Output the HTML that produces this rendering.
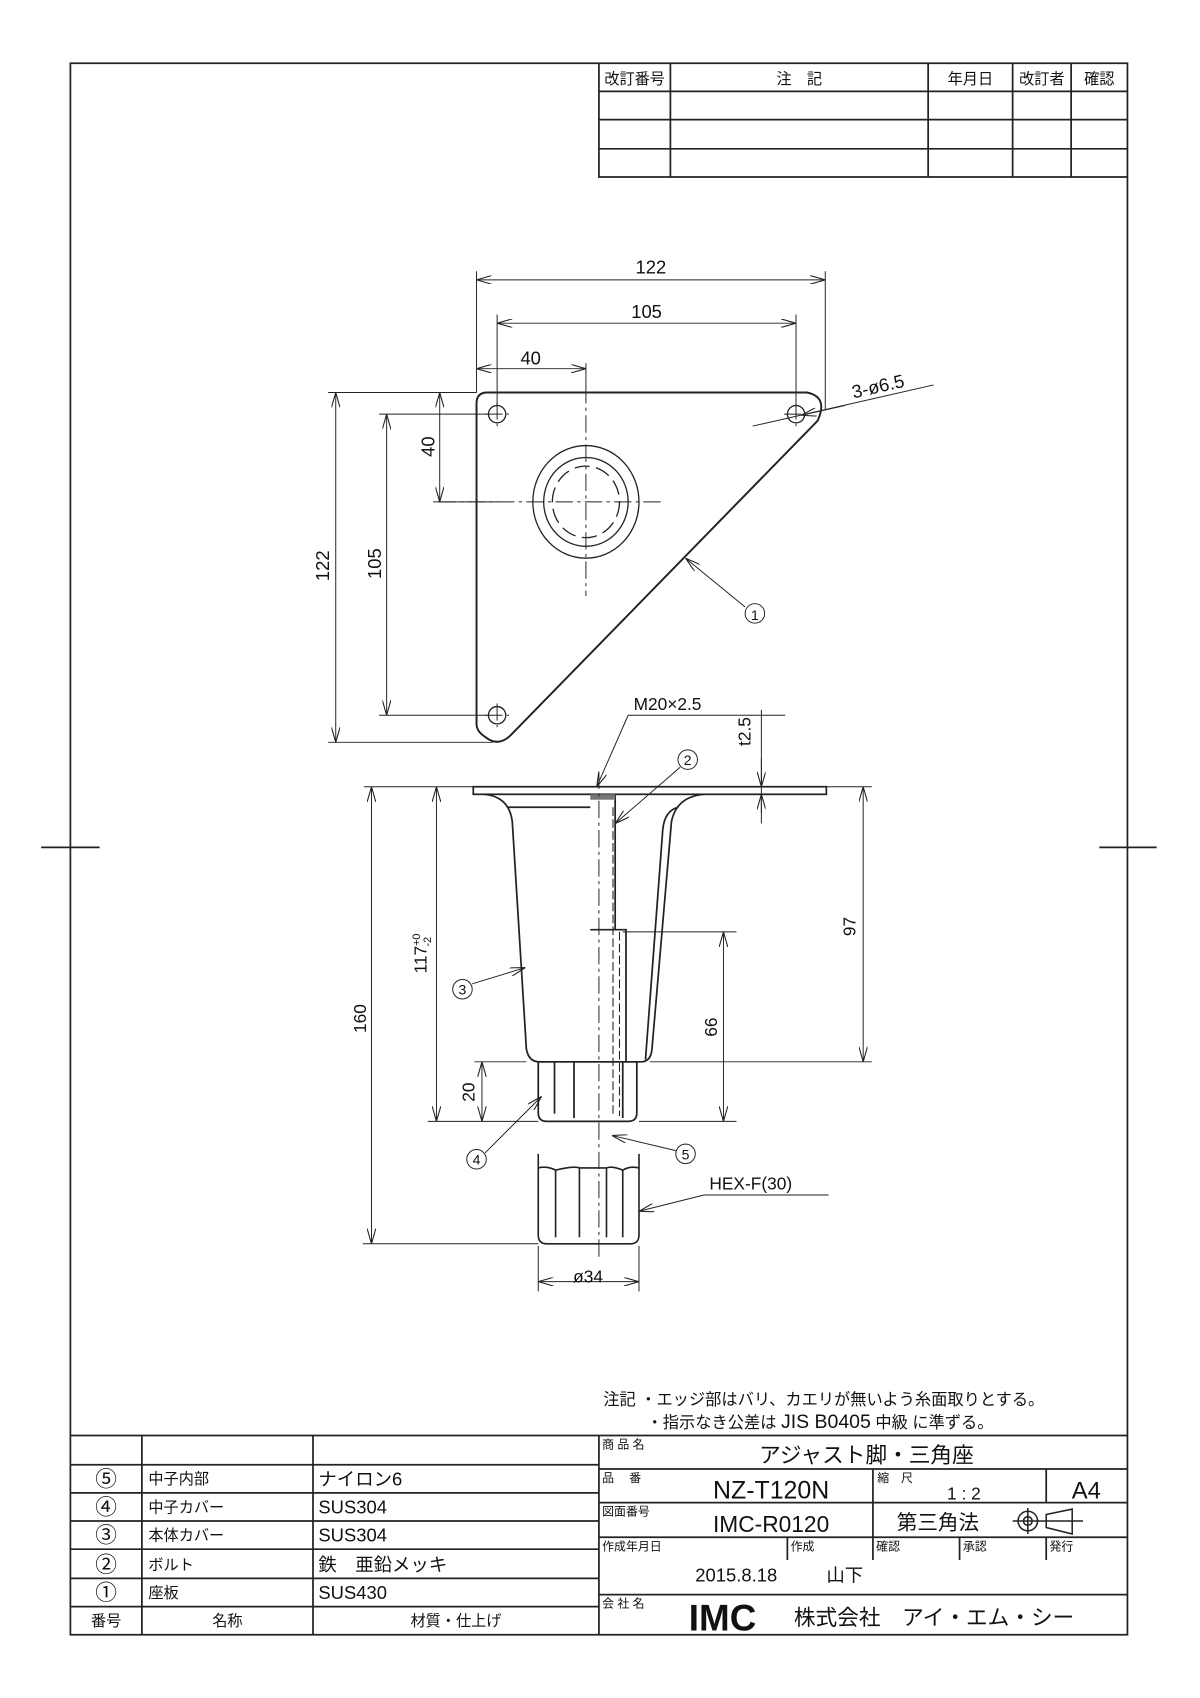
<!DOCTYPE html>
<html><head><meta charset="utf-8"><style>
html,body{margin:0;padding:0;background:#fff}
svg{display:block}
text{font-family:"Liberation Sans","Noto Sans CJK JP",sans-serif;fill:#111}
</style></head><body>
<svg width="1200" height="1698" viewBox="0 0 1108 1567" xmlns="http://www.w3.org/2000/svg">
<defs>
<marker id="a" markerWidth="14" markerHeight="8" refX="14" refY="4" orient="auto-start-reverse" markerUnits="userSpaceOnUse"><path d="M0,0 L14,4 L0,8" fill="none" stroke="#222" stroke-width="1"/></marker>
</defs>
<rect width="1108" height="1567" fill="#fff"/>
<g fill="none" stroke="#222" stroke-width="1.6">
<rect x="65" y="58" width="976" height="1451"/>
<line x1="38" y1="782" x2="92" y2="782"/><line x1="1015" y1="782" x2="1068" y2="782"/>
<path d="M553 58V163H1041M553 84H1041M553 110H1041M553 137H1041M619 58V163M857 58V163M935 58V163M989 58V163"/>
<path d="M65 1325H1041M131 1325V1509M289 1325V1509M553 1325V1509M65 1352H553M65 1378H553M65 1404H553M65 1430H553M65 1457H553M65 1483H553"/>
<path d="M553 1356H1041M553 1387H1041M553 1419H1041M553 1472H1041M806 1356V1419M966 1356V1387M727 1419V1440M806 1419V1440M886 1419V1440M966 1419V1440"/>
</g>
<g font-size="14">
<text x="586" y="77" text-anchor="middle">改訂番号</text>
<text x="738" y="77" text-anchor="middle">注　記</text>
<text x="896" y="77" text-anchor="middle">年月日</text>
<text x="962" y="77" text-anchor="middle">改訂者</text>
<text x="1015" y="77" text-anchor="middle">確認</text>
</g>
<g font-size="15">
<text x="557" y="1297">注記 ・エッジ部はバリ、カエリが無いよう糸面取りとする。</text>
<text x="597" y="1318">・指示なき公差は <tspan font-size="18">JIS  B0405</tspan> 中級  に準ずる。</text>
</g>
<g font-size="20">
<text x="98" y="1372" text-anchor="middle">⑤</text><text x="98" y="1398" text-anchor="middle">④</text><text x="98" y="1424" text-anchor="middle">③</text><text x="98" y="1451" text-anchor="middle">②</text><text x="98" y="1477" text-anchor="middle">①</text>
</g>
<g font-size="14">
<text x="137" y="1370">中子内部</text><text x="137" y="1396">中子カバー</text><text x="137" y="1422">本体カバー</text><text x="137" y="1449">ボルト</text><text x="137" y="1475">座板</text>
<text x="98" y="1501" text-anchor="middle">番号</text><text x="210" y="1501" text-anchor="middle">名称</text><text x="421" y="1501" text-anchor="middle">材質・仕上げ</text>
</g>
<g font-size="17">
<text x="294" y="1371">ナイロン6</text><text x="294" y="1397">SUS304</text><text x="294" y="1423">SUS304</text><text x="294" y="1450">鉄　亜鉛メッキ</text><text x="294" y="1476">SUS430</text>
</g>
<g font-size="11">
<text x="556" y="1337">商 品 名</text><text x="556" y="1368">品　 番</text><text x="810" y="1368">縮　尺</text><text x="556" y="1399">図面番号</text>
<text x="556" y="1431">作成年月日</text><text x="730" y="1431">作成</text><text x="809" y="1431">確認</text><text x="889" y="1431">承認</text><text x="969" y="1431">発行</text>
<text x="556" y="1484">会 社 名</text>
</g>
<text x="800" y="1350" font-size="20" text-anchor="middle">アジャスト脚・三角座</text>
<text x="712" y="1383" font-size="23" text-anchor="middle">NZ-T120N</text>
<text x="890" y="1384" font-size="16" text-anchor="middle">1 : 2</text>
<text x="1003" y="1383" font-size="22" text-anchor="middle">A4</text>
<text x="712" y="1414" font-size="21" text-anchor="middle">IMC-R0120</text>
<text x="866" y="1412" font-size="19" text-anchor="middle">第三角法</text>
<g fill="none" stroke="#222" stroke-width="1.4"><circle cx="949" cy="1404" r="9"/><circle cx="949" cy="1404" r="4"/><path d="M935 1404H1000M949 1392V1416M966 1398L990 1393V1416L966 1410Z"/></g>
<text x="642" y="1460" font-size="17">2015.8.18</text>
<text x="763" y="1460" font-size="17">山下</text>
<text x="636" y="1505" font-size="34" font-weight="bold">IMC</text>
<text x="733" y="1500" font-size="20">株式会社　アイ・エム・シー</text>

<g fill="none" stroke="#222" stroke-width="1.8">
<path d="M450 362H745Q765 366 755 388L472 678Q460 690 448 680Q440 675 440 668V372Q440 362 450 362Z"/>
</g>
<g fill="none" stroke="#222" stroke-width="1.2">
<circle cx="459" cy="382" r="8"/><circle cx="735" cy="382" r="8"/><circle cx="459" cy="660" r="8"/>
<ellipse cx="541" cy="463" rx="49" ry="52"/><ellipse cx="541" cy="463" rx="39" ry="41"/>
<ellipse cx="541" cy="463" rx="31" ry="33" stroke-dasharray="14 6"/>
<path d="M541 356V550M405 463H610M448 382H470M459 371V393M724 382H746M735 371V393M448 660H470M459 649V671" stroke-dasharray="16 4 3 4" stroke-width="0.9"/>
</g>
<g fill="none" stroke="#222" stroke-width="0.9">
<path d="M440 250V362M762 250V378M459 290V375M735 290V375M541 335V356"/>
<line x1="440" y1="258" x2="762" y2="258" marker-start="url(#a)" marker-end="url(#a)"/>
<line x1="459" y1="298" x2="735" y2="298" marker-start="url(#a)" marker-end="url(#a)"/>
<line x1="440" y1="340" x2="541" y2="340" marker-start="url(#a)" marker-end="url(#a)"/>
<path d="M303 362H440M350 382H450M400 463H460M350 660H450M303 685H455"/>
<line x1="310" y1="362" x2="310" y2="685" marker-start="url(#a)" marker-end="url(#a)"/>
<line x1="357" y1="382" x2="357" y2="660" marker-start="url(#a)" marker-end="url(#a)"/>
<line x1="406" y1="362" x2="406" y2="463" marker-start="url(#a)" marker-end="url(#a)"/>
<path d="M695 393L862 355"/><line x1="780" y1="374" x2="740" y2="383" marker-end="url(#a)"/>
<line x1="688" y1="560" x2="633" y2="515" marker-end="url(#a)"/>
<circle cx="697" cy="566" r="9"/>
</g>
<g font-size="17">
<text x="601" y="252" text-anchor="middle">122</text>
<text x="597" y="293" text-anchor="middle">105</text>
<text x="490" y="336" text-anchor="middle">40</text>
<text x="304" y="522" text-anchor="middle" transform="rotate(-90 304 522)">122</text>
<text x="352" y="520" text-anchor="middle" transform="rotate(-90 352 520)">105</text>
<text x="401" y="412" text-anchor="middle" transform="rotate(-90 401 412)">40</text>
<text x="812" y="362" text-anchor="middle" transform="rotate(-13 812 362)">3-ø6.5</text>
</g>
<text x="697" y="572" font-size="13" text-anchor="middle">1</text>

<g fill="none" stroke="#222" stroke-width="1.6">
<rect x="437" y="726" width="326" height="7"/>
<path d="M447 733Q470 735 473 758L486 968Q488 980 498 980H592Q601 980 602 968L620 758Q625 735 650 733"/>
<path d="M626 745Q614 748 612 765L596 978"/>
<path d="M468 745H545M568 733V858M545 858H578V980"/>
<path d="M497 980H588V1027Q588 1035 580 1035H505Q497 1035 497 1027Z"/>
<path d="M512 980V1028M530 980V1032M575 980V1032"/>
</g>
<rect x="545" y="733" width="23" height="5" fill="#777"/>
<path d="M566 745V1030M572 860V1030" stroke="#222" stroke-width="1" stroke-dasharray="8 3" fill="none"/>
<line x1="553" y1="712" x2="553" y2="1160" stroke="#222" stroke-width="0.9" stroke-dasharray="16 4 3 4"/>
<g fill="none" stroke="#222" stroke-width="1.5">
<path d="M497 1065V1140Q497 1148 505 1148H582Q590 1148 590 1140V1065"/>
<path d="M497 1078Q505 1076 513 1080V1142M590 1078Q582 1076 575 1080V1142M513 1080Q530 1076 535 1078V1142M575 1080Q565 1076 560 1078V1142M535 1078H560"/>
</g>
<g fill="none" stroke="#222" stroke-width="0.9">
<path d="M336 726H437M395 1035H497M335 1148H497M438 980H486M575 860H680M590 1035H680M763 726H805M600 980H805M497 1150V1192M590 1150V1192M703 655V760"/>
<line x1="343" y1="726" x2="343" y2="1148" marker-start="url(#a)" marker-end="url(#a)"/>
<line x1="403" y1="726" x2="403" y2="1035" marker-start="url(#a)" marker-end="url(#a)"/>
<line x1="445" y1="980" x2="445" y2="1035" marker-start="url(#a)" marker-end="url(#a)"/>
<line x1="668" y1="860" x2="668" y2="1035" marker-start="url(#a)" marker-end="url(#a)"/>
<line x1="797" y1="726" x2="797" y2="980" marker-start="url(#a)" marker-end="url(#a)"/>
<line x1="703" y1="700" x2="703" y2="726" marker-end="url(#a)"/>
<line x1="703" y1="750" x2="703" y2="733" marker-end="url(#a)"/>
<line x1="497" y1="1183" x2="590" y2="1183" marker-start="url(#a)" marker-end="url(#a)"/>
<path d="M580 660H725"/><line x1="580" y1="660" x2="551" y2="726" marker-end="url(#a)"/>
<line x1="628" y1="708" x2="568" y2="760" marker-end="url(#a)"/>
<circle cx="635" cy="701" r="9"/>
<line x1="436" y1="908" x2="485" y2="893" marker-end="url(#a)"/>
<circle cx="427" cy="913" r="9"/>
<line x1="448" y1="1064" x2="500" y2="1012" marker-end="url(#a)"/>
<circle cx="440" cy="1070" r="9"/>
<line x1="624" y1="1062" x2="565" y2="1048" marker-end="url(#a)"/>
<circle cx="633" cy="1065" r="9"/>
<path d="M650 1103H765"/><line x1="650" y1="1103" x2="590" y2="1118" marker-end="url(#a)"/>
</g>
<g font-size="13" text-anchor="middle">
<text x="635" y="706">2</text><text x="427" y="918">3</text><text x="440" y="1075">4</text><text x="633" y="1070">5</text>
</g>
<g font-size="16">
<text x="585" y="655">M20×2.5</text>
<text x="693" y="675" text-anchor="middle" transform="rotate(-90 693 675)">t2.5</text>
<text x="338" y="940" text-anchor="middle" transform="rotate(-90 338 940)">160</text>
<text x="394" y="880" text-anchor="middle" transform="rotate(-90 394 880)">117<tspan font-size="10" dy="-6">+0</tspan><tspan font-size="10" dx="-12" dy="10">-2</tspan></text>
<text x="438" y="1008" text-anchor="middle" transform="rotate(-90 438 1008)">20</text>
<text x="662" y="948" text-anchor="middle" transform="rotate(-90 662 948)">66</text>
<text x="790" y="855" text-anchor="middle" transform="rotate(-90 790 855)">97</text>
<text x="655" y="1098">HEX-F(30)</text>
<text x="543" y="1184" text-anchor="middle">ø34</text>
</g>
</svg>
</body></html>
